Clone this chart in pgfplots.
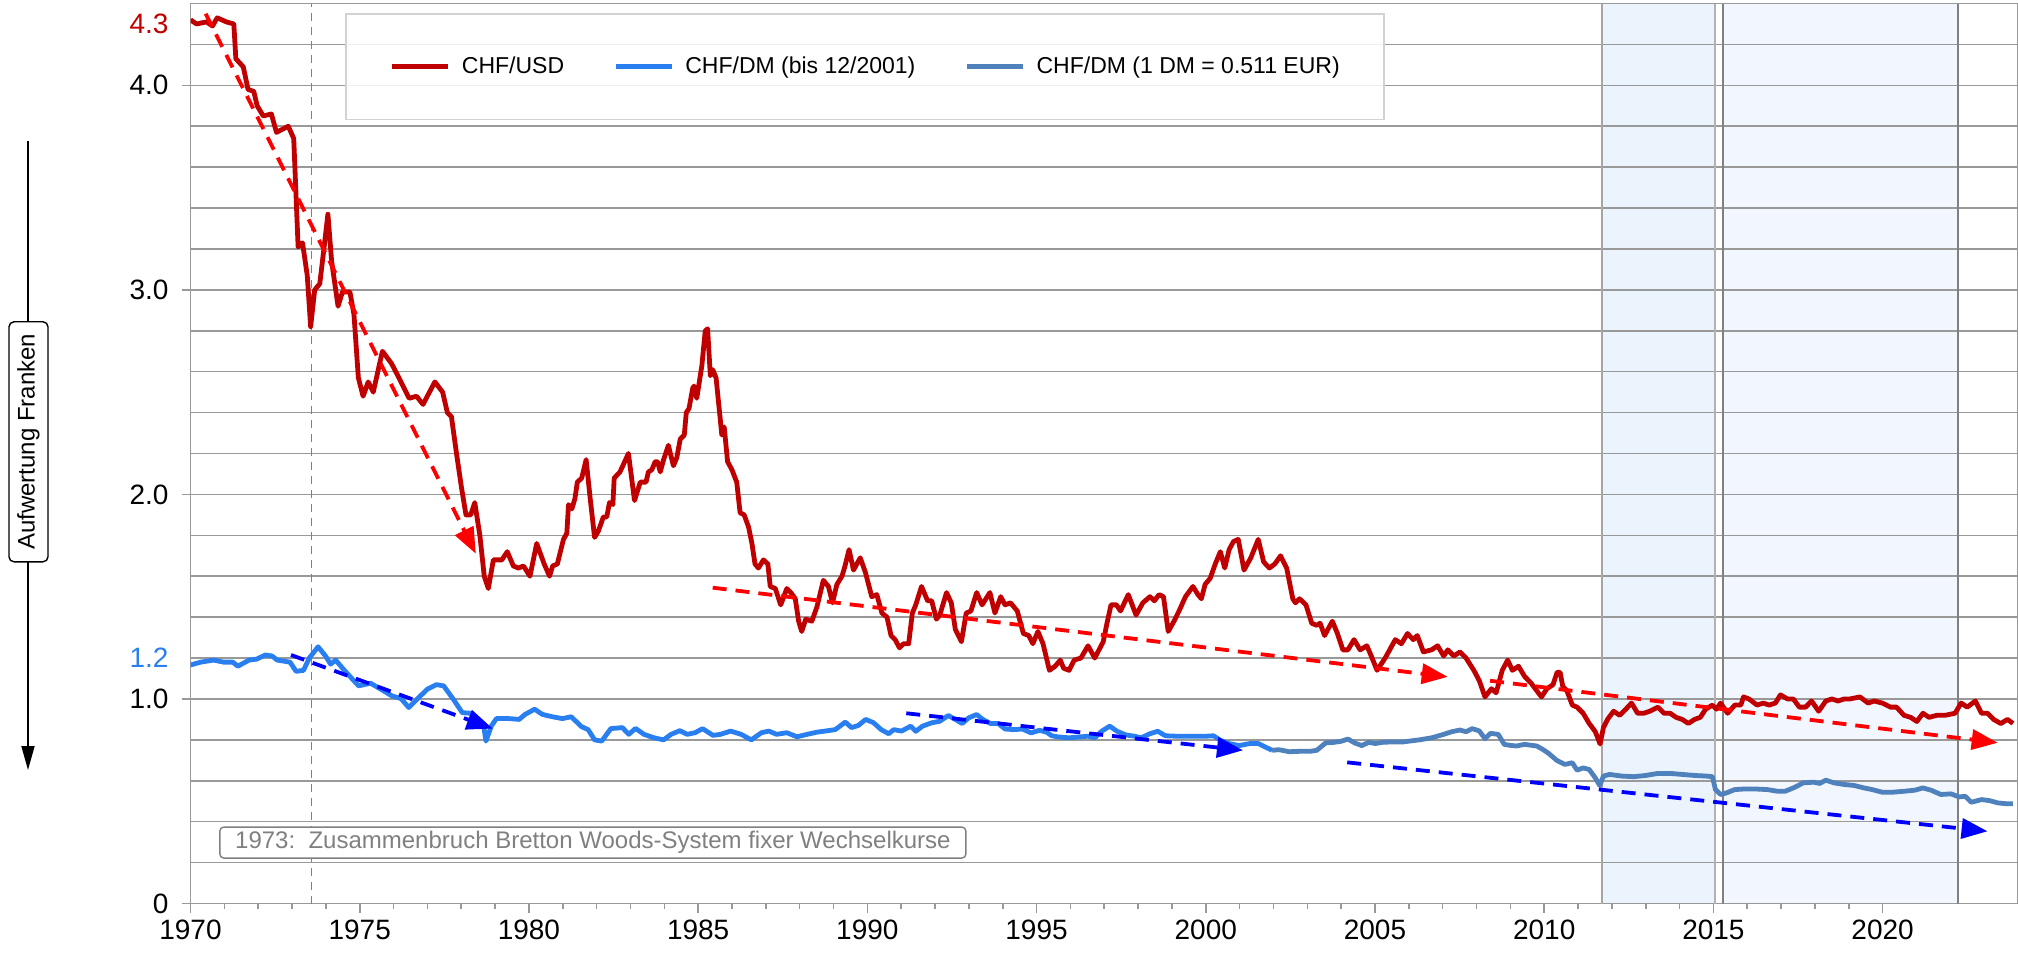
\documentclass[border=0pt]{standalone}
\usepackage{fontspec}
\setmainfont{Liberation Sans}
\usepackage{pgfplots}
\usepackage{pgfplotstable}
\pgfplotsset{compat=1.18}
\usetikzlibrary{arrows.meta}

\definecolor{chfusd}{HTML}{C00000}
\definecolor{dmlight}{HTML}{2A7FF0}
\definecolor{dmsteel}{HTML}{4F81BD}
\definecolor{gridgray}{HTML}{999999}
\definecolor{shadeA}{HTML}{EBF3FC}
\definecolor{shadeB}{HTML}{F2F6FE}
\definecolor{trendred}{HTML}{FF0000}
\definecolor{trendblue}{HTML}{0000FF}

\pgfplotstableread{
x y
1970.00 4.32
1970.18 4.30
1970.47 4.31
1970.65 4.29
1970.79 4.33
1971.06 4.31
1971.28 4.30
1971.34 4.13
1971.56 4.09
1971.70 3.98
1971.87 3.97
1971.97 3.90
1972.15 3.85
1972.39 3.86
1972.54 3.77
1972.89 3.80
1973.05 3.74
1973.18 3.21
1973.31 3.23
1973.45 3.07
1973.55 2.82
1973.67 3.00
1973.82 3.03
1973.92 3.17
1974.06 3.37
1974.17 3.14
1974.36 2.92
1974.49 2.99
1974.71 2.99
1974.83 2.88
1974.96 2.57
1975.10 2.48
1975.25 2.55
1975.40 2.50
1975.67 2.70
1975.94 2.64
1976.19 2.56
1976.46 2.47
1976.68 2.48
1976.87 2.44
1977.22 2.55
1977.45 2.50
1977.59 2.40
1977.71 2.38
1977.86 2.20
1978.01 2.03
1978.14 1.90
1978.28 1.90
1978.40 1.96
1978.55 1.80
1978.68 1.60
1978.80 1.54
1978.95 1.68
1979.20 1.68
1979.36 1.72
1979.54 1.65
1979.69 1.64
1979.84 1.65
1980.03 1.60
1980.23 1.76
1980.45 1.66
1980.61 1.60
1980.70 1.65
1980.84 1.66
1981.02 1.78
1981.12 1.81
1981.17 1.95
1981.27 1.93
1981.36 1.98
1981.43 2.06
1981.56 2.08
1981.69 2.17
1981.81 1.98
1981.94 1.79
1982.05 1.82
1982.20 1.89
1982.30 1.89
1982.38 1.96
1982.48 1.95
1982.52 2.08
1982.69 2.11
1982.94 2.20
1983.12 1.97
1983.29 2.06
1983.46 2.06
1983.53 2.11
1983.63 2.12
1983.73 2.16
1983.80 2.16
1983.88 2.11
1983.98 2.17
1984.12 2.24
1984.27 2.14
1984.37 2.18
1984.47 2.27
1984.59 2.29
1984.65 2.40
1984.73 2.42
1984.84 2.52
1984.88 2.53
1984.96 2.47
1985.11 2.63
1985.21 2.80
1985.28 2.81
1985.36 2.58
1985.43 2.61
1985.53 2.57
1985.70 2.29
1985.77 2.33
1985.87 2.16
1986.00 2.12
1986.14 2.06
1986.24 1.91
1986.36 1.90
1986.49 1.84
1986.59 1.76
1986.68 1.66
1986.78 1.64
1986.93 1.68
1987.06 1.66
1987.13 1.55
1987.28 1.54
1987.44 1.46
1987.62 1.54
1987.74 1.52
1987.87 1.49
1987.97 1.38
1988.06 1.33
1988.18 1.39
1988.36 1.38
1988.51 1.45
1988.70 1.58
1988.85 1.55
1988.97 1.47
1989.10 1.56
1989.25 1.60
1989.34 1.65
1989.46 1.73
1989.59 1.63
1989.79 1.69
1989.94 1.62
1990.13 1.50
1990.28 1.51
1990.43 1.42
1990.58 1.40
1990.70 1.31
1990.82 1.29
1990.95 1.25
1991.07 1.27
1991.22 1.27
1991.33 1.42
1991.43 1.46
1991.60 1.55
1991.78 1.48
1991.90 1.48
1992.04 1.39
1992.14 1.41
1992.34 1.52
1992.48 1.47
1992.60 1.34
1992.78 1.28
1992.92 1.42
1993.06 1.43
1993.23 1.52
1993.39 1.46
1993.62 1.52
1993.77 1.42
1993.94 1.50
1994.07 1.46
1994.23 1.47
1994.43 1.43
1994.61 1.32
1994.77 1.31
1994.89 1.27
1995.04 1.33
1995.19 1.27
1995.38 1.14
1995.55 1.16
1995.70 1.19
1995.80 1.15
1995.96 1.14
1996.11 1.19
1996.31 1.20
1996.52 1.26
1996.72 1.20
1996.97 1.28
1997.08 1.37
1997.20 1.46
1997.36 1.46
1997.48 1.43
1997.71 1.51
1997.94 1.41
1998.14 1.47
1998.35 1.50
1998.48 1.48
1998.62 1.51
1998.75 1.50
1998.89 1.33
1999.06 1.38
1999.21 1.43
1999.40 1.50
1999.62 1.55
1999.77 1.51
1999.87 1.49
1999.98 1.56
2000.13 1.59
2000.28 1.66
2000.43 1.72
2000.56 1.64
2000.69 1.73
2000.82 1.77
2000.96 1.78
2001.13 1.63
2001.33 1.69
2001.55 1.78
2001.71 1.67
2001.88 1.64
2002.04 1.66
2002.21 1.70
2002.39 1.64
2002.57 1.49
2002.65 1.47
2002.77 1.49
2002.96 1.46
2003.13 1.37
2003.28 1.36
2003.38 1.37
2003.51 1.31
2003.64 1.35
2003.74 1.38
2003.89 1.32
2004.05 1.24
2004.20 1.24
2004.38 1.29
2004.56 1.24
2004.76 1.26
2004.89 1.21
2005.06 1.14
2005.30 1.20
2005.60 1.29
2005.78 1.27
2005.96 1.32
2006.13 1.29
2006.25 1.31
2006.43 1.23
2006.67 1.24
2006.85 1.26
2007.03 1.21
2007.15 1.24
2007.33 1.21
2007.51 1.23
2007.69 1.20
2007.92 1.14
2008.08 1.09
2008.25 1.01
2008.44 1.05
2008.58 1.03
2008.76 1.14
2008.92 1.19
2009.06 1.14
2009.24 1.16
2009.42 1.11
2009.60 1.08
2009.78 1.04
2009.92 1.01
2010.08 1.05
2010.26 1.07
2010.38 1.13
2010.47 1.13
2010.55 1.06
2010.67 1.04
2010.83 0.97
2010.97 0.96
2011.15 0.93
2011.33 0.88
2011.51 0.84
2011.65 0.78
2011.75 0.86
2011.87 0.90
2012.05 0.94
2012.23 0.92
2012.41 0.95
2012.58 0.98
2012.76 0.93
2012.94 0.93
2013.12 0.94
2013.24 0.95
2013.36 0.96
2013.54 0.93
2013.72 0.93
2013.90 0.91
2014.08 0.90
2014.26 0.88
2014.44 0.90
2014.61 0.91
2014.77 0.95
2014.97 0.97
2015.09 0.95
2015.21 0.98
2015.42 0.93
2015.63 0.97
2015.81 0.97
2015.89 1.01
2016.05 1.00
2016.29 0.97
2016.47 0.98
2016.65 0.97
2016.83 0.98
2016.98 1.02
2017.19 1.00
2017.36 1.00
2017.54 0.96
2017.72 0.96
2017.90 0.99
2018.11 0.94
2018.32 0.99
2018.50 1.00
2018.68 0.99
2018.86 1.00
2019.03 1.00
2019.33 1.01
2019.57 0.98
2019.75 0.99
2019.99 0.98
2020.23 0.96
2020.41 0.96
2020.63 0.92
2020.83 0.91
2021.01 0.89
2021.19 0.93
2021.37 0.91
2021.60 0.92
2021.84 0.92
2022.14 0.93
2022.32 0.98
2022.50 0.96
2022.74 0.99
2022.92 0.93
2023.10 0.93
2023.28 0.90
2023.49 0.88
2023.69 0.90
2023.85 0.88
}\usdtbl

\pgfplotstableread{
x y
1970.00 1.166
1970.30 1.180
1970.68 1.190
1970.98 1.180
1971.25 1.180
1971.40 1.160
1971.73 1.190
1971.96 1.195
1972.21 1.215
1972.41 1.210
1972.56 1.190
1972.94 1.180
1973.12 1.135
1973.34 1.140
1973.51 1.200
1973.77 1.255
1973.99 1.210
1974.14 1.170
1974.29 1.190
1974.52 1.145
1974.74 1.105
1974.97 1.064
1975.32 1.077
1975.65 1.045
1975.95 1.015
1976.22 1.002
1976.45 0.958
1976.70 1.000
1977.00 1.048
1977.27 1.070
1977.48 1.064
1977.76 1.000
1978.03 0.933
1978.28 0.930
1978.48 0.897
1978.66 0.870
1978.73 0.794
1978.89 0.868
1979.04 0.904
1979.41 0.904
1979.71 0.900
1979.89 0.925
1980.17 0.950
1980.39 0.925
1980.69 0.913
1980.99 0.904
1981.25 0.913
1981.55 0.865
1981.75 0.850
1981.94 0.800
1982.15 0.794
1982.42 0.855
1982.76 0.860
1982.95 0.827
1983.15 0.856
1983.40 0.827
1983.70 0.810
1983.98 0.800
1984.20 0.827
1984.46 0.845
1984.68 0.827
1984.91 0.835
1985.13 0.855
1985.44 0.822
1985.66 0.827
1985.96 0.843
1986.27 0.827
1986.57 0.800
1986.87 0.835
1987.09 0.843
1987.32 0.827
1987.62 0.835
1987.92 0.815
1988.22 0.827
1988.52 0.838
1988.75 0.843
1989.05 0.850
1989.35 0.887
1989.53 0.860
1989.73 0.870
1989.95 0.900
1990.18 0.884
1990.41 0.850
1990.63 0.830
1990.78 0.850
1991.01 0.843
1991.28 0.867
1991.43 0.842
1991.63 0.867
1991.89 0.883
1992.14 0.891
1992.39 0.919
1992.60 0.900
1992.80 0.880
1993.00 0.908
1993.23 0.924
1993.41 0.900
1993.64 0.880
1993.87 0.880
1994.07 0.853
1994.33 0.850
1994.58 0.853
1994.84 0.834
1995.09 0.847
1995.30 0.837
1995.45 0.820
1995.65 0.814
1995.96 0.810
1996.26 0.814
1996.52 0.818
1996.72 0.810
1996.92 0.842
1997.16 0.867
1997.38 0.842
1997.64 0.824
1997.89 0.818
1998.09 0.810
1998.35 0.830
1998.58 0.842
1998.81 0.820
1999.11 0.818
1999.42 0.818
1999.72 0.818
2000.03 0.818
2000.23 0.820
2000.43 0.798
2000.69 0.782
2000.99 0.772
2001.30 0.782
2001.55 0.782
2001.76 0.765
2001.96 0.749
}\dmtbl

\pgfplotstableread{
x y
2001.96 0.749
2002.16 0.752
2002.47 0.742
2002.77 0.744
2003.08 0.744
2003.28 0.749
2003.54 0.785
2003.79 0.788
2004.00 0.793
2004.20 0.804
2004.40 0.785
2004.61 0.772
2004.81 0.788
2005.01 0.782
2005.22 0.788
2005.52 0.790
2005.83 0.790
2006.31 0.800
2006.67 0.810
2007.03 0.827
2007.27 0.840
2007.51 0.848
2007.69 0.840
2007.87 0.855
2008.08 0.844
2008.25 0.806
2008.41 0.832
2008.64 0.827
2008.82 0.778
2009.00 0.773
2009.18 0.770
2009.42 0.778
2009.78 0.770
2009.96 0.753
2010.13 0.734
2010.37 0.700
2010.61 0.680
2010.83 0.688
2010.97 0.652
2011.15 0.663
2011.33 0.655
2011.51 0.614
2011.64 0.577
2011.75 0.623
2011.93 0.631
2012.29 0.623
2012.64 0.620
2013.00 0.626
2013.36 0.636
2013.72 0.636
2014.08 0.631
2014.44 0.626
2014.79 0.623
2014.97 0.620
2015.06 0.557
2015.21 0.533
2015.39 0.541
2015.63 0.557
2015.93 0.560
2016.23 0.560
2016.59 0.557
2016.89 0.549
2017.12 0.549
2017.36 0.565
2017.66 0.590
2017.96 0.593
2018.14 0.587
2018.32 0.603
2018.56 0.590
2018.86 0.582
2019.16 0.577
2019.45 0.565
2019.69 0.557
2019.99 0.544
2020.29 0.544
2020.65 0.549
2020.95 0.554
2021.19 0.565
2021.43 0.554
2021.72 0.533
2022.02 0.536
2022.26 0.521
2022.44 0.524
2022.62 0.495
2022.92 0.508
2023.16 0.503
2023.40 0.492
2023.64 0.488
2023.85 0.488
}\eurtbl

\begin{document}
\begin{tikzpicture}
% left arrow and label
\draw[line width=0.9pt, -{Triangle[length=12pt,width=6.5pt]}] (14pt,407pt) -- (14pt,92.5pt);
\node[rotate=90, draw=black, line width=0.7pt, rounded corners=2.5pt, fill=white,
      minimum width=120pt, minimum height=19.5pt, inner sep=0pt,
      font=\fontsize{12}{14}\selectfont] at (14.25pt,256.6pt) {Aufwertung Franken};

\begin{axis}[
  set layers,
  at={(95.25pt,25.75pt)}, anchor=south west,
  scale only axis, width=913.75pt, height=450pt,
  xmin=1970, xmax=2024, ymin=0, ymax=4.4,
  axis line style={gridgray, line width=0.9pt},
  xtick={1970,1975,...,2020}, minor x tick num=4,
  ytick={0,1,2,3,4}, yticklabels={0,1.0,2.0,3.0,4.0},
  minor ytick={0.2,0.4,0.6,0.8,1.2,1.4,1.6,1.8,2.2,2.4,2.6,2.8,3.2,3.4,3.6,3.8,4.2},
  ymajorgrids, yminorgrids,
  major grid style={gridgray, line width=0.8pt},
  minor grid style={gridgray, line width=0.8pt},
  tick align=outside, major tick length=4.5pt, minor tick length=2.5pt,
  tick style={gridgray, line width=0.8pt},
  minor y tick style={draw=none},
  xtick pos=left, ytick pos=left,
  ticklabel style={font=\fontsize{14}{16}\selectfont},
  /pgf/number format/assume math mode=true,
  /pgf/number format/1000 sep={},
  yticklabel style={xshift=-3pt},
  extra y ticks={1.2,4.3},
  extra y tick labels={\textcolor{dmlight}{1.2},\textcolor{chfusd}{4.3}},
  extra y tick style={grid=none, tick style={draw=none}},
  legend columns=3,
  legend cell align=left,
  legend image code/.code={\draw[#1, line width=2.6pt, line cap=butt] (0pt,0pt) -- (28pt,0pt);},
  legend style={at={(axis description cs:0.0845,0.9894)}, anchor=north west,
    draw=gray!35, line width=0.8pt, fill=white, fill opacity=0.85, text opacity=1, draw opacity=1,
    inner xsep=22pt, inner ysep=21.5pt, font=\fontsize{11.5}{13}\selectfont,
    nodes={inner sep=0pt},
    /tikz/every even column/.append style={column sep=24.5pt},
    /tikz/every odd column/.append style={column sep=5.5pt}},
]
\begin{pgfonlayer}{axis background}
\fill[shadeA] (axis cs:2011.70,0) rectangle (axis cs:2015.04,4.4);
\fill[shadeB] (axis cs:2015.29,0) rectangle (axis cs:2022.23,4.4);
\end{pgfonlayer}
\draw[gray!70, line width=0.9pt] (axis cs:2011.70,0) -- (axis cs:2011.70,4.4);
\draw[gray!60, line width=0.9pt] (axis cs:2015.04,0) -- (axis cs:2015.04,4.4);
\draw[gray, line width=0.9pt] (axis cs:2015.29,0) -- (axis cs:2015.29,4.4);
\draw[gray, line width=0.9pt] (axis cs:2022.23,0) -- (axis cs:2022.23,4.4);
\draw[gray, line width=0.8pt, dash pattern=on 4pt off 3pt] (axis cs:1973.57,0) -- (axis cs:1973.57,4.4);

\addplot[chfusd, line width=2.4pt, line join=round] table[x=x,y=y] {\usdtbl};
\addlegendentry{CHF/USD}
\addplot[dmlight, line width=2.4pt, line join=round] table[x=x,y=y] {\dmtbl};
\addlegendentry{CHF/DM (bis 12/2001)}
\addplot[dmsteel, line width=2.4pt, line join=round] table[x=x,y=y] {\eurtbl};
\addlegendentry{CHF/DM (1 DM = 0.511 EUR)}

% trend arrows
\addplot[forget plot, trendred, line width=1.9pt, dash pattern=on 7pt off 4.5pt, -{Triangle[length=13pt,width=10pt]}] coordinates {(1970.45,4.35) (1978.43,1.71)};
\addplot[forget plot, trendred, line width=1.9pt, dash pattern=on 7pt off 4.5pt, -{Triangle[length=13pt,width=10pt]}] coordinates {(1985.43,1.544) (2007.15,1.108)};
\addplot[forget plot, trendred, line width=1.9pt, dash pattern=on 7pt off 4.5pt, -{Triangle[length=13pt,width=10pt]}] coordinates {(2008.40,1.089) (2023.40,0.786)};
\addplot[forget plot, trendblue, line width=1.9pt, dash pattern=on 7pt off 4.5pt, -{Triangle[length=13pt,width=10pt]}] coordinates {(1972.97,1.215) (1978.93,0.855)};
\addplot[forget plot, trendblue, line width=1.9pt, dash pattern=on 7pt off 4.5pt, -{Triangle[length=13pt,width=10pt]}] coordinates {(1991.15,0.930) (2001.10,0.749)};
\addplot[forget plot, trendblue, line width=1.9pt, dash pattern=on 7pt off 4.5pt, -{Triangle[length=13pt,width=10pt]}] coordinates {(2004.18,0.690) (2023.10,0.353)};

\node[draw=gray, line width=0.7pt, rounded corners=2pt, fill=white, text=gray,
      font=\fontsize{12}{14}\selectfont, minimum width=373pt, minimum height=15.5pt, inner sep=0pt]
      at (axis cs:1981.89,0.298) {1973:\ \ Zusammenbruch Bretton Woods-System fixer Wechselkurse};
\end{axis}
\pgfresetboundingbox
\useasboundingbox (0,0) rectangle (1009pt,477.5pt);
\end{tikzpicture}
\end{document}
